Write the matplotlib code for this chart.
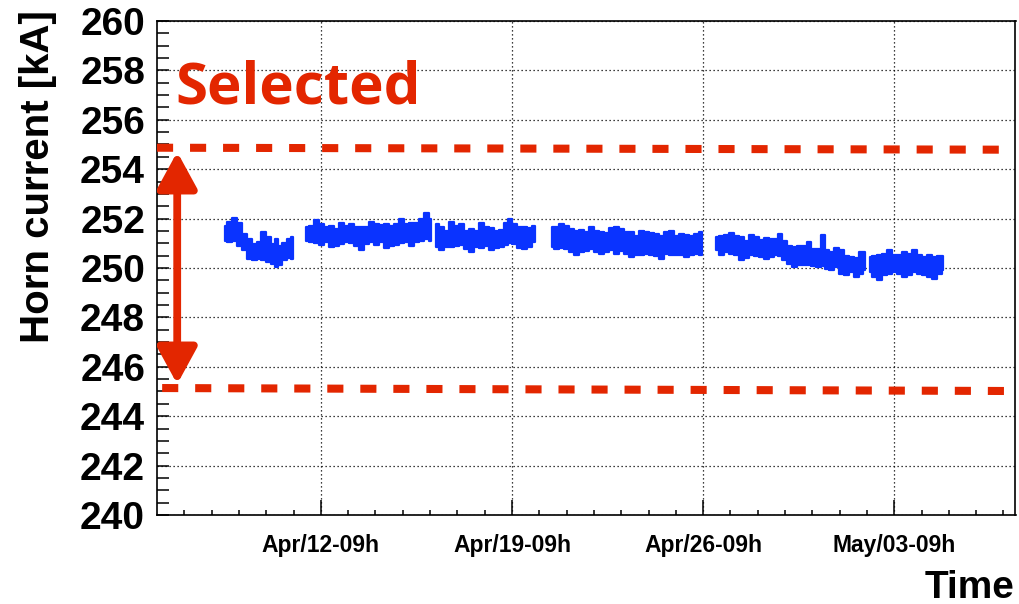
import datetime as dt
import matplotlib
matplotlib.use("Agg")
import matplotlib.pyplot as plt
import matplotlib.dates as mdates
from matplotlib.ticker import MultipleLocator, FixedLocator
from matplotlib.patches import FancyArrowPatch

# ---------------------------------------------------------------- data
# Time origin of the run period; all times below are days after it.
t0 = dt.datetime(2010, 4, 6, 9, 0)

# Horn current band (upper / lower envelope of the monitored readings), kA.
seg1_days = [2.48, 2.66, 2.85, 3.03, 3.21, 3.40, 3.58, 3.76, 3.88, 4.07,
             4.25, 4.37, 4.49, 4.68, 4.86, 4.98]
seg1_hi = [251.71, 251.87, 252.04, 251.84, 251.37, 251.17, 250.97, 251.04,
           251.47, 251.24, 250.97, 251.17, 250.91, 251.01, 251.17, 251.24]
seg1_lo = [251.11, 251.07, 251.11, 250.91, 250.71, 250.37, 250.31, 250.35,
           250.31, 250.24, 250.17, 250.04, 250.11, 250.31, 250.40, 250.37]

seg2_days = [5.47, 5.65, 5.84, 6.02, 6.20, 6.39, 6.57, 6.75, 6.94, 7.12,
             7.30, 7.49, 7.67, 7.85, 8.04, 8.22, 8.40, 8.59, 8.77, 8.95,
             9.14, 9.32, 9.50, 9.69, 9.87, 10.05]
seg2_hi = [251.64, 251.71, 251.95, 251.77, 251.64, 251.71, 251.57, 251.81,
           251.71, 251.77, 251.64, 251.68, 251.68, 251.87, 251.77, 251.73,
           251.77, 251.71, 251.77, 251.97, 251.77, 251.81, 251.84, 251.97,
           252.21, 251.97]
seg2_lo = [251.11, 251.07, 251.01, 250.93, 251.04, 250.84, 250.91, 250.97,
           251.04, 251.01, 250.91, 250.71, 250.97, 251.04, 250.93, 251.04,
           250.80, 250.91, 250.93, 251.01, 251.04, 250.91, 251.04, 251.11,
           251.17, 251.11]

seg3_days = [10.23, 10.42, 10.60, 10.78, 10.97, 11.15, 11.33, 11.52, 11.70,
             11.88, 12.07, 12.25, 12.43, 12.62, 12.80, 12.92, 13.11, 13.29,
             13.47, 13.66, 13.84]
seg3_hi = [251.77, 251.64, 251.51, 251.87, 251.71, 251.77, 251.51, 251.57,
           251.51, 251.84, 251.64, 251.60, 251.51, 251.55, 251.84, 251.97,
           251.77, 251.68, 251.64, 251.60, 251.71]
seg3_lo = [250.84, 250.71, 250.84, 250.84, 250.91, 250.93, 250.77, 250.64,
           250.84, 250.80, 250.91, 250.71, 250.80, 250.84, 250.93, 251.01,
           250.97, 250.80, 250.75, 250.84, 251.04]

seg4_days = [14.45, 14.63, 14.81, 15.00, 15.18, 15.36, 15.55, 15.73, 15.91,
             16.10, 16.28, 16.46, 16.65, 16.83, 17.01, 17.20, 17.38, 17.56,
             17.75, 17.93, 18.11, 18.30, 18.48, 18.66, 18.85, 19.03, 19.21,
             19.40, 19.58, 19.76, 19.95]
seg4_hi = [251.64, 251.68, 251.77, 251.71, 251.57, 251.51, 251.55, 251.44,
           251.68, 251.51, 251.47, 251.41, 251.60, 251.64, 251.57, 251.47,
           251.44, 251.31, 251.51, 251.44, 251.41, 251.37, 251.28, 251.47,
           251.51, 251.31, 251.37, 251.33, 251.28, 251.37, 251.44]
seg4_lo = [250.84, 250.77, 250.80, 250.77, 250.64, 250.51, 250.64, 250.67,
           250.77, 250.64, 250.57, 250.64, 250.71, 250.57, 250.67, 250.57,
           250.44, 250.51, 250.53, 250.57, 250.51, 250.48, 250.37, 250.57,
           250.51, 250.53, 250.51, 250.44, 250.51, 250.57, 250.51]

seg5_days = [20.47, 20.67, 20.86, 21.04, 21.22, 21.41, 21.59, 21.77, 21.96,
             22.14, 22.32, 22.51, 22.69, 22.81, 23.00, 23.18, 23.36, 23.55,
             23.73, 23.85, 24.03, 24.22, 24.40, 24.52, 24.70, 24.89, 25.07,
             25.25, 25.44, 25.62, 25.80, 25.92]
seg5_hi = [251.24, 251.28, 251.33, 251.41, 251.31, 251.24, 251.11, 251.33,
           251.24, 251.15, 251.20, 251.17, 251.17, 251.37, 251.11, 250.91,
           250.84, 250.88, 250.91, 251.07, 250.77, 250.77, 251.33, 250.71,
           250.64, 250.80, 250.71, 250.48, 250.44, 250.40, 250.64, 250.64]
seg5_lo = [250.71, 250.53, 250.64, 250.57, 250.51, 250.31, 250.40, 250.51,
           250.48, 250.44, 250.35, 250.44, 250.51, 250.48, 250.31, 250.17,
           250.04, 250.11, 250.13, 250.11, 250.08, 250.04, 250.08, 249.97,
           249.91, 250.04, 249.77, 249.71, 249.84, 249.64, 249.77, 249.91]

seg6_days = [26.11, 26.29, 26.47, 26.66, 26.84, 27.02, 27.21, 27.39, 27.57,
             27.76, 27.94, 28.12, 28.31, 28.49, 28.67, 28.80]
seg6_hi = [250.44, 250.48, 250.51, 250.57, 250.71, 250.51, 250.53, 250.64,
           250.57, 250.71, 250.53, 250.44, 250.51, 250.44, 250.48, 250.48]
seg6_lo = [249.84, 249.64, 249.51, 249.71, 249.77, 249.84, 249.77, 249.64,
           249.73, 249.84, 249.77, 249.71, 249.64, 249.57, 249.77, 249.91]

segments = [
    (seg1_days, seg1_hi, seg1_lo),
    (seg2_days, seg2_hi, seg2_lo),
    (seg3_days, seg3_hi, seg3_lo),
    (seg4_days, seg4_hi, seg4_lo),
    (seg5_days, seg5_hi, seg5_lo),
    (seg6_days, seg6_hi, seg6_lo),
]

# Selection window (upper / lower cut lines, left and right ends), kA
cut_upper = (254.87, 254.79)
cut_lower = (245.14, 245.02)

# Axis ranges and ticks
x_start_days, x_end_days = 0.0, 31.44
y_min, y_max = 240.0, 260.0
major_tick_days = [6, 13, 20, 27]   # Apr/12-09h, Apr/19-09h, Apr/26-09h, May/03-09h

# ---------------------------------------------------------------- style
RED = "#e32600"
BLUE = "#0a33ff"
FONT = "Liberation Sans"


def to_num(days):
    return [mdates.date2num(t0 + dt.timedelta(days=d)) for d in days]


fig = plt.figure(figsize=(10.2, 6.04), dpi=100)
W, H = 1020, 604
ax = fig.add_axes([157 / W, 1 - 515 / H, (1015.5 - 157) / W, (515 - 21) / H])

for days, hi, lo in segments:
    x = to_num(days)
    ax.fill_between(x, lo, hi, step="mid", color=BLUE, linewidth=1.6,
                    edgecolor=BLUE, zorder=3)

ax.set_xlim(to_num([x_start_days, x_end_days]))
ax.set_ylim(y_min, y_max)

# ticks
ax.xaxis.set_major_locator(FixedLocator(to_num(major_tick_days)))
ax.xaxis.set_minor_locator(FixedLocator(to_num(range(1, 32))))
ax.xaxis.set_major_formatter(mdates.DateFormatter("%b/%d-%Hh"))
ax.yaxis.set_major_locator(MultipleLocator(2))
ax.yaxis.set_minor_locator(MultipleLocator(0.5))

ax.tick_params(axis="both", which="both", direction="in", color="black",
               width=1.1)
ax.tick_params(axis="x", which="major", length=10.8, pad=13.5,
               labelsize=16.5)
ax.tick_params(axis="x", which="minor", length=3.6)
ax.tick_params(axis="y", which="both", length=8.6)
ax.tick_params(axis="y", which="major", pad=8.6, labelsize=28)
for lab in ax.get_xticklabels() + ax.get_yticklabels():
    lab.set_fontfamily(FONT)
    lab.set_fontweight("bold")

for sp in ax.spines.values():
    sp.set_linewidth(1.2)
    sp.set_color("black")

ax.grid(True, which="major", color="black", linestyle=(0, (1, 2.2)),
        linewidth=0.9)
ax.set_axisbelow(True)

# selection cut lines
xl = ax.get_xlim()
ax.plot([xl[0], xl[1] - (xl[1] - xl[0]) * 0.013], cut_upper, color=RED,
        lw=5.8, linestyle=(0, (2.0, 2.1)), solid_capstyle="butt",
        dash_capstyle="butt", zorder=5, clip_on=False)
ax.plot([xl[0] + (xl[1] - xl[0]) * 0.006, xl[1] - (xl[1] - xl[0]) * 0.006],
        cut_lower, color=RED, lw=5.8, linestyle=(0, (2.0, 2.1)),
        dash_capstyle="butt", zorder=5, clip_on=False)

# double-headed arrow spanning the selection window
x_arrow = to_num([0.74])[0]
arrow = FancyArrowPatch((x_arrow, 245.3), (x_arrow, 254.7),
                        arrowstyle="<|-|>,head_length=2.2,head_width=1.2",
                        mutation_scale=10, color=RED, lw=5.6,
                        shrinkA=0, shrinkB=0, zorder=6)
ax.add_patch(arrow)

ax.text(0.021, 0.834, "Selected", transform=ax.transAxes, color=RED,
        fontsize=42, fontweight="bold", fontfamily="Open Sans",
        ha="left", va="baseline", zorder=6)

# axis titles
fig.text(38 / W, 1 - 10 / H, "Horn current [kA]", rotation=90, ha="center",
         va="top", fontsize=29, fontweight="bold", fontfamily=FONT)
fig.text(1015 / W, 1 - 598 / H, "Time", ha="right", va="baseline",
         fontsize=28, fontweight="bold", fontfamily=FONT)

fig.savefig("out.png", dpi=100)
